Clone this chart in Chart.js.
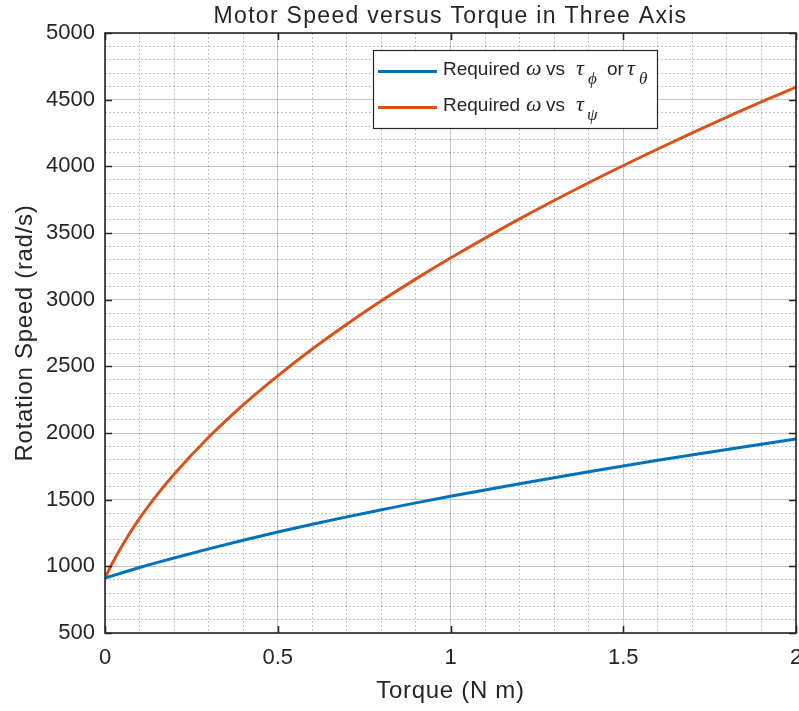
<!DOCTYPE html>
<html>
<head>
<meta charset="utf-8">
<script src="https://cdn.jsdelivr.net/npm/chart.js@4/dist/chart.umd.min.js"></script>
<style>
  html, body { margin: 0; padding: 0; background: #ffffff; }
  canvas { display: block; }
</style>
</head>
<body>
<canvas id="chart" width="799" height="711"></canvas>
<script>
// Torque samples (N m) and the motor speed needed for each axis (rad/s)
const torque = [0, 0.02, 0.05, 0.1, 0.15, 0.2, 0.3, 0.4, 0.5, 0.6, 0.7, 0.8, 0.9, 1.0, 1.2, 1.4, 1.6, 1.8, 2.0];
const speedRollPitch = [912, 928, 952, 991, 1028, 1063, 1131, 1196, 1257, 1315, 1371, 1424, 1476, 1525, 1620, 1710, 1796, 1877, 1955];
const speedYaw = [912, 1017, 1157, 1359, 1534, 1691, 1968, 2211, 2429, 2630, 2816, 2991, 3156, 3312, 3606, 3877, 4130, 4369, 4595];

const xTickLabels = ['0', '0.5', '1', '1.5', '2'];
const yTickLabels = ['500', '1000', '1500', '2000', '2500', '3000', '3500', '4000', '4500', '5000'];

const chartTitle = 'Motor Speed versus Torque in Three Axis';
const xTitle = 'Torque (N m)';
const yTitle = 'Rotation Speed (rad/s)';

const BLUE = '#0072BD';
const ORANGE = '#D95319';
const INK = '#262626';
const SANS = '"Liberation Sans", Arial, Helvetica, sans-serif';
const SERIF = '"Liberation Serif", "DejaVu Serif", "Times New Roman", serif';

const xMajor = v => Math.abs(v * 2 - Math.round(v * 2)) < 1e-6;
const yMajor = v => Math.abs(v / 500 - Math.round(v / 500)) < 1e-6;

function toPoints(xs, ys) {
  return xs.map((x, i) => ({ x: x, y: ys[i] }));
}

// Legend rows: plain text pieces mixed with italic Greek symbols and subscripts.
// Each piece starts at its own x so the TeX-like spacing is kept.
const legendRows = [
  { color: BLUE, pieces: [
    { t: 'Required', k: 'sans', x: 443 }, { t: 'ω', k: 'greek', x: 526 },
    { t: 'vs', k: 'sans', x: 546 }, { t: 'τ', k: 'greek', x: 576 },
    { t: 'ϕ', k: 'sub', x: 588 }, { t: 'or', k: 'sans', x: 607 },
    { t: 'τ', k: 'greek', x: 627 }, { t: 'θ', k: 'sub', x: 639 } ] },
  { color: ORANGE, pieces: [
    { t: 'Required', k: 'sans', x: 443 }, { t: 'ω', k: 'greek', x: 526 },
    { t: 'vs', k: 'sans', x: 546 }, { t: 'τ', k: 'greek', x: 576 },
    { t: 'ψ', k: 'sub', x: 587 } ] }
];

const decorations = {
  id: 'decorations',
  afterDatasetsDraw(chart) {
    const ctx = chart.ctx;
    const a = chart.chartArea;
    const xs = chart.scales.x, ys = chart.scales.y;
    ctx.save();
    // axes box
    ctx.strokeStyle = INK;
    ctx.lineWidth = 1.6;
    ctx.strokeRect(a.left, a.top, a.right - a.left, a.bottom - a.top);
    // inward major tick marks on all four sides
    const tl = 7;
    ctx.lineWidth = 1.6;
    ctx.beginPath();
    xs.ticks.forEach(t => {
      if (!xMajor(t.value)) return;
      const p = Math.round(xs.getPixelForValue(t.value)) + 0.5;
      ctx.moveTo(p, a.bottom); ctx.lineTo(p, a.bottom - tl);
      ctx.moveTo(p, a.top); ctx.lineTo(p, a.top + tl);
    });
    ys.ticks.forEach(t => {
      if (!yMajor(t.value)) return;
      const p = Math.round(ys.getPixelForValue(t.value)) + 0.5;
      ctx.moveTo(a.left, p); ctx.lineTo(a.left + tl, p);
      ctx.moveTo(a.right, p); ctx.lineTo(a.right - tl, p);
    });
    ctx.stroke();
    ctx.restore();
  },
  afterDraw(chart) {
    const ctx = chart.ctx;
    const a = chart.chartArea;
    const cx = (a.left + a.right) / 2;
    const cy = (a.top + a.bottom) / 2;
    ctx.save();
    ctx.fillStyle = INK;
    ctx.textAlign = 'center';
    ctx.textBaseline = 'alphabetic';

    // title
    ctx.font = '23px ' + SANS;
    ctx.letterSpacing = '1.3px';
    ctx.fillText(chartTitle, cx, 22.5);

    // axis titles
    ctx.font = '24px ' + SANS;
    ctx.letterSpacing = '0.7px';
    ctx.fillText(xTitle, cx, 698);
    ctx.save();
    ctx.translate(32, cy);
    ctx.rotate(-Math.PI / 2);
    ctx.fillText(yTitle, 0, 0);
    ctx.restore();
    ctx.letterSpacing = '0px';

    // legend
    const bx = 373.5, by = 50.5, bw = 284, bh = 78;
    ctx.fillStyle = '#ffffff';
    ctx.fillRect(bx, by, bw, bh);
    ctx.strokeStyle = INK;
    ctx.lineWidth = 1.2;
    ctx.strokeRect(bx, by, bw, bh);

    const fonts = {
      sans: '19px ' + SANS,
      greek: 'italic 22px ' + SERIF,
      sub: 'italic 17px ' + SERIF
    };
    const lineYs = [71.5, 107.5];
    const baseYs = [74.5, 110.5];
    ctx.textAlign = 'left';
    legendRows.forEach((row, i) => {
      ctx.strokeStyle = row.color;
      ctx.lineWidth = 3;
      ctx.beginPath();
      ctx.moveTo(378, lineYs[i]);
      ctx.lineTo(437, lineYs[i]);
      ctx.stroke();
      ctx.fillStyle = INK;
      row.pieces.forEach(p => {
        ctx.font = fonts[p.k];
        const y = baseYs[i] + (p.k === 'sub' ? 9 : 0);
        ctx.fillText(p.t, p.x, y);
      });
    });
    ctx.restore();
  }
};

const gridMajor = 'rgba(0,0,0,0.22)';
const gridMinor = 'rgba(0,0,0,0.24)';

new Chart(document.getElementById('chart'), {
  type: 'line',
  data: {
    datasets: [
      {
        label: 'Required ω vs τϕ or τθ',
        data: toPoints(torque, speedRollPitch),
        borderColor: BLUE,
        borderWidth: 3,
        pointRadius: 0,
        cubicInterpolationMode: 'monotone',
        fill: false
      },
      {
        label: 'Required ω vs τψ',
        data: toPoints(torque, speedYaw),
        borderColor: ORANGE,
        borderWidth: 3,
        pointRadius: 0,
        cubicInterpolationMode: 'monotone',
        fill: false
      }
    ]
  },
  options: {
    responsive: false,
    devicePixelRatio: 1,
    animation: false,
    parsing: false,
    layout: { padding: { top: 33, right: 3, left: 0, bottom: 0 } },
    plugins: {
      legend: { display: false },
      title: { display: false },
      tooltip: { enabled: false }
    },
    scales: {
      x: {
        type: 'linear',
        min: 0, max: 2,
        grid: {
          drawTicks: false,
          lineWidth: 1,
          color: c => (c.tick && xMajor(c.tick.value)) ? gridMajor : gridMinor
        },
        border: {
          display: false,
          dash: c => (c.tick && !xMajor(c.tick.value)) ? [2, 2] : []
        },
        ticks: {
          stepSize: 0.1,
          autoSkip: false,
          maxRotation: 0,
          padding: 12,
          color: INK,
          font: { family: SANS, size: 22 },
          callback: v => xMajor(v) ? xTickLabels[Math.round(v * 2)] : ''
        },
        afterFit: s => { s.height = 78; s.paddingLeft = 0; s.paddingRight = 0; }
      },
      y: {
        type: 'linear',
        min: 500, max: 5000,
        grid: {
          drawTicks: false,
          lineWidth: 1,
          color: c => (c.tick && yMajor(c.tick.value)) ? gridMajor : gridMinor
        },
        border: {
          display: false,
          dash: c => (c.tick && !yMajor(c.tick.value)) ? [2, 2] : []
        },
        ticks: {
          stepSize: 100,
          autoSkip: false,
          padding: 10,
          color: INK,
          font: { family: SANS, size: 22 },
          callback: v => yMajor(v) ? yTickLabels[Math.round((v - 500) / 500)] : ''
        },
        afterFit: s => { s.width = 105; s.paddingTop = 0; s.paddingBottom = 0; }
      }
    }
  },
  plugins: [decorations]
});
</script>
</body>
</html>
